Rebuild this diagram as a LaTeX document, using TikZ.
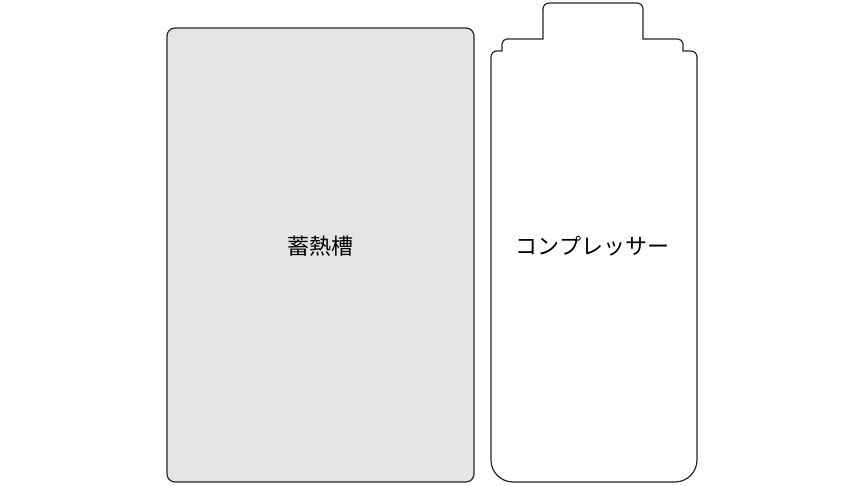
\documentclass[tikz,border=0pt]{standalone}
\usepackage{fontspec}
\newfontfamily\jpfont{Noto Sans CJK JP}
\usetikzlibrary{positioning}

\begin{document}
\begin{tikzpicture}[x=1pt, y=1pt,
    outline/.style={draw=black!85, line width=1.2pt},
    label/.style={font=\jpfont\fontsize{22}{26}\selectfont}]
          \useasboundingbox (0,0) rectangle (864,486);

          % heat storage tank
          \draw[outline, fill=black!10, rounded corners=8] (167,4) rectangle (474,458);
          \coordinate (tank) at (320.5,240);
          \node[label] (tanklabel) at (tank) {蓄熱槽};

          % compressor
          \draw[outline] (594,4) -- (675,4) arc (-90:0:22) -- (697,429)
                arc (0:90:6) -- (683,435) -- (683,442)
                arc (0:90:5) -- (643,447) -- (643,477)
                arc (0:90:6) -- (549,483)
                arc (90:180:6) -- (543,447) -- (507,447)
                arc (90:180:5) -- (502,435) -- (497,435)
                arc (90:180:6) -- (491,26)
                arc (180:270:22) -- cycle;
          \coordinate (comp) at (592.5,240);
          \node[label] (complabel) at (comp) {コンプレッサー};

        \end{tikzpicture}
\end{document}
